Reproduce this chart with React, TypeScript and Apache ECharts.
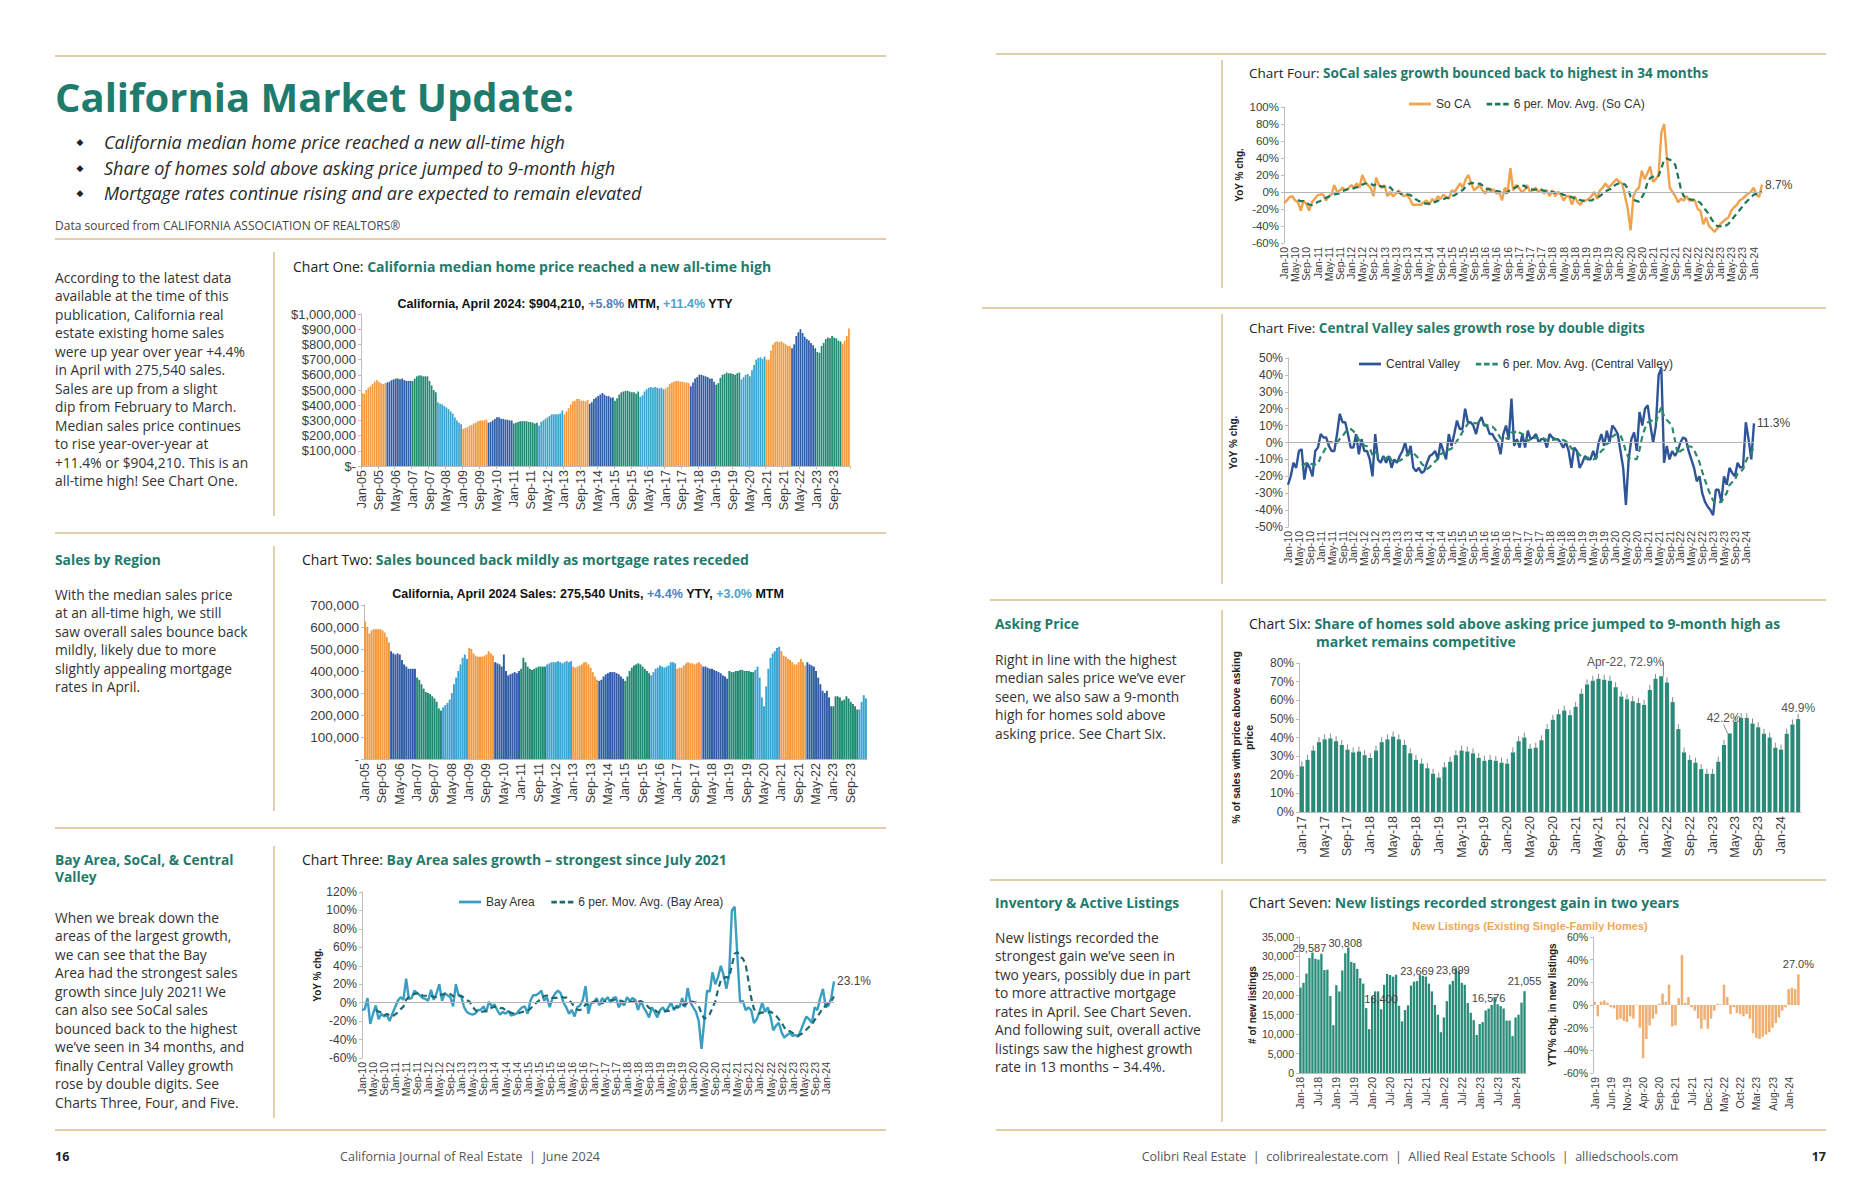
import React, { useEffect, useRef } from "react";
import * as echarts from "echarts";

// ---------- category helpers ----------
const MONTH_NAMES = ["Jan", "Feb", "Mar", "Apr", "May", "Jun", "Jul", "Aug", "Sep", "Oct", "Nov", "Dec"];
function monthLabels(startYear: number, count: number): string[] {
  const out: string[] = [];
  for (let i = 0; i < count; i++) {
    const y = startYear + Math.floor(i / 12);
    out.push(MONTH_NAMES[i % 12] + "-" + String(y % 100).padStart(2, "0"));
  }
  return out;
}

const priceMonths = monthLabels(2005, 232);
const regionMonths = monthLabels(2010, 172);
const askingMonths = monthLabels(2017, 88);
const listingMonths = monthLabels(2018, 76);
const listingYoYMonths = monthLabels(2019, 64);

// ---------- Chart One: median price ----------
const medianPrice = [
  480e3, 475e3, 500e3, 515e3, 525e3, 540e3, 555e3, 565e3, 555e3, 545e3, 540e3, 545e3,
  550e3, 555e3, 565e3, 570e3, 575e3, 575e3, 570e3, 575e3, 565e3, 560e3, 560e3, 560e3,
  560e3, 575e3, 590e3, 595e3, 595e3, 590e3, 590e3, 590e3, 560e3, 530e3, 500e3, 485e3,
  420e3, 410e3, 405e3, 395e3, 385e3, 375e3, 360e3, 345e3, 320e3, 300e3, 285e3, 275e3,
  245e3, 250e3, 255e3, 265e3, 270e3, 280e3, 285e3, 295e3, 300e3, 300e3, 300e3, 305e3,
  285e3, 290e3, 300e3, 310e3, 320e3, 320e3, 310e3, 310e3, 305e3, 305e3, 300e3, 300e3,
  280e3, 285e3, 290e3, 295e3, 295e3, 295e3, 295e3, 290e3, 290e3, 285e3, 280e3, 285e3,
  265e3, 290e3, 300e3, 310e3, 320e3, 330e3, 340e3, 340e3, 340e3, 340e3, 345e3, 365e3,
  340e3, 360e3, 380e3, 405e3, 425e3, 430e3, 440e3, 440e3, 430e3, 430e3, 425e3, 435e3,
  410e3, 420e3, 440e3, 450e3, 460e3, 470e3, 480e3, 470e3, 460e3, 460e3, 450e3, 450e3,
  430e3, 445e3, 470e3, 485e3, 490e3, 495e3, 495e3, 490e3, 485e3, 485e3, 475e3, 490e3,
  455e3, 465e3, 490e3, 505e3, 515e3, 520e3, 515e3, 520e3, 515e3, 510e3, 515e3, 505e3,
  510e3, 520e3, 540e3, 550e3, 555e3, 560e3, 560e3, 555e3, 555e3, 550e3, 550e3, 545e3,
  525e3, 550e3, 575e3, 585e3, 600e3, 600e3, 595e3, 590e3, 585e3, 575e3, 575e3, 555e3,
  535e3, 545e3, 580e3, 600e3, 605e3, 615e3, 610e3, 610e3, 605e3, 600e3, 610e3, 615e3,
  570e3, 585e3, 600e3, 605e3, 590e3, 630e3, 665e3, 700e3, 710e3, 715e3, 705e3, 720e3,
  700e3, 700e3, 760e3, 800e3, 815e3, 820e3, 815e3, 820e3, 810e3, 800e3, 790e3, 790e3,
  775e3, 800e3, 855e3, 880e3, 900e3, 875e3, 850e3, 835e3, 825e3, 810e3, 795e3, 775e3,
  750e3, 745e3, 790e3, 810e3, 835e3, 845e3, 840e3, 855e3, 845e3, 840e3, 825e3, 820e3,
  805e3, 825e3, 855e3, 904210,
];

// ---------- Chart Two: sales units ----------
const salesUnits = [
  625e3, 600e3, 570e3, 585e3, 590e3, 590e3, 590e3, 590e3, 585e3, 575e3, 555e3, 530e3,
  490e3, 480e3, 475e3, 480e3, 475e3, 450e3, 430e3, 420e3, 410e3, 410e3, 410e3, 410e3,
  370e3, 360e3, 340e3, 320e3, 305e3, 300e3, 295e3, 285e3, 275e3, 260e3, 230e3, 220e3,
  235e3, 245e3, 255e3, 270e3, 300e3, 340e3, 370e3, 400e3, 430e3, 460e3, 475e3, 455e3,
  505e3, 500e3, 480e3, 470e3, 465e3, 465e3, 465e3, 470e3, 475e3, 490e3, 480e3, 470e3,
  440e3, 435e3, 430e3, 420e3, 475e3, 400e3, 380e3, 385e3, 390e3, 395e3, 390e3, 400e3,
  410e3, 460e3, 440e3, 420e3, 410e3, 405e3, 410e3, 415e3, 420e3, 420e3, 420e3, 420e3,
  430e3, 435e3, 440e3, 440e3, 440e3, 445e3, 440e3, 435e3, 440e3, 445e3, 440e3, 445e3,
  420e3, 415e3, 420e3, 425e3, 430e3, 440e3, 440e3, 430e3, 415e3, 395e3, 375e3, 360e3,
  355e3, 360e3, 375e3, 385e3, 390e3, 395e3, 395e3, 395e3, 390e3, 385e3, 375e3, 365e3,
  355e3, 375e3, 400e3, 415e3, 425e3, 430e3, 435e3, 430e3, 420e3, 410e3, 400e3, 390e3,
  380e3, 395e3, 410e3, 415e3, 425e3, 420e3, 415e3, 420e3, 425e3, 440e3, 440e3, 435e3,
  410e3, 415e3, 415e3, 425e3, 435e3, 440e3, 435e3, 435e3, 430e3, 435e3, 440e3, 430e3,
  420e3, 420e3, 415e3, 410e3, 410e3, 405e3, 400e3, 395e3, 390e3, 380e3, 375e3, 365e3,
  400e3, 395e3, 395e3, 400e3, 400e3, 405e3, 405e3, 400e3, 400e3, 400e3, 395e3, 395e3,
  405e3, 420e3, 370e3, 280e3, 240e3, 330e3, 410e3, 460e3, 480e3, 490e3, 505e3, 510e3,
  490e3, 470e3, 465e3, 455e3, 450e3, 440e3, 430e3, 430e3, 440e3, 455e3, 440e3, 425e3,
  440e3, 430e3, 425e3, 420e3, 400e3, 370e3, 340e3, 310e3, 300e3, 310e3, 280e3, 240e3,
  240e3, 285e3, 285e3, 280e3, 265e3, 270e3, 285e3, 275e3, 260e3, 250e3, 240e3, 225e3,
  225e3, 260e3, 290e3, 275540,
];

const C_ORANGE = "#f29a3d";
const C_DBLUE = "#2e5ca7";
const C_GREEN = "#1f8a71";
const C_LBLUE = "#37a5ce";
const priceYearColors = [
  C_ORANGE, C_DBLUE, C_GREEN, C_LBLUE, C_ORANGE, C_DBLUE, C_GREEN, C_LBLUE, C_ORANGE, C_DBLUE,
  C_GREEN, C_LBLUE, C_ORANGE, C_DBLUE, C_GREEN, C_LBLUE, C_ORANGE, C_DBLUE, C_GREEN, C_ORANGE,
];
const salesYearColors = [
  C_ORANGE, C_DBLUE, C_GREEN, C_LBLUE, C_ORANGE, C_DBLUE, C_GREEN, C_LBLUE, C_ORANGE, C_DBLUE,
  C_GREEN, C_LBLUE, C_ORANGE, C_DBLUE, C_GREEN, C_LBLUE, C_ORANGE, C_DBLUE, C_GREEN, C_LBLUE,
];

// ---------- Chart Three: Bay Area YoY % ----------
const bayArea = [
  -8, -7, 5, -23, -12, -3, -18, -12, -15, -13, -20, -12,
  -5, 2, 6, 3, 26, 4, 5, 13, 10, 8, 5, 4,
  2, 14, 3, 10, 20, 2, 10, 8, 6, -4, 20, 8,
  6, -5, -10, -12, -13, -12, -8, -8, -4, -10, 1, -4,
  -2, -8, -13, -10, -12, -9, -14, -13, -12, -8, -5, -4,
  -12, 2, 8, 8, 10, 13, 2, 6, -5, 5, 10, 13,
  10, 0, -5, -12, -8, -15, -5, -3, 3, 18, -12, 0,
  0, 5, -3, 5, 2, 6, 0, 5, 6, -5, 0, -3,
  6, 2, 5, 3, -8, 2, -5, -10, -16, -5, -10, -16,
  -8, -5, -10, -5, 0, -8, -3, -5, 5, -5, 16, 0,
  -5, -10, -20, -50, -20, 13, 12, 33, 20, 28, 40, 30,
  15, 30, 100, 104, 50, 0, 2, -8, -5, -8, -22, -18,
  -10, 0, -10, -5, -15, -30, -25, -22, -32, -38, -35, -33,
  -36, -35, -37, -30, -22, -15, -18, -22, -5, -8, 5, 15,
  -5, -3, 5, 23.1,
];
const bayAreaMA = [
  null, null, null, null, null, -8, -9.7, -10.5, -13.8, -12.2, -13.5, -15,
  -12.8, -10.5, -7, -4.3, 3.3, 6, 7.7, 9.5, 10.2, 11, 7.5, 7.5,
  7, 7.2, 6, 6.3, 8.8, 8.5, 9.8, 8.8, 9.3, 7, 7, 8,
  7.3, 5.2, 2.5, 1.2, -4.3, -7.7, -10, -10.5, -9.5, -9.2, -6.8, -5.5,
  -4.5, -4.5, -6, -6, -8.2, -9, -11, -11.8, -11.7, -11.3, -10.2, -9.3,
  -9, -6.5, -3.2, -0.5, 2, 4.8, 7.2, 7.8, 5.7, 5.2, 5.2, 5.2,
  6.5, 5.5, 5.5, 2.7, -0.3, -5, -7.5, -8, -6.7, -1.7, -2.3, 0.2,
  1, 2.3, 1.3, -0.8, 1.5, 2.5, 2.5, 2.5, 4, 2.3, 2, 0.5,
  1.5, 1, 0.8, 2.2, 0.8, 1.7, -0.2, -2.2, -5.7, -7, -7.3, -10.3,
  -10.8, -10, -9, -9, -7.3, -6, -5.2, -5.2, -2.7, -2.7, 0, 1.3,
  1, 0.2, -4, -11.5, -17.5, -15.3, -12.5, -5.3, 1.3, 14.3, 24.3, 27.2,
  27.7, 27.2, 40.5, 53.2, 54.8, 49.8, 47.7, 41.3, 23.8, 5.2, -6.8, -9.8,
  -11.8, -10.5, -11.3, -10.8, -9.7, -11.7, -14.2, -17.8, -21.5, -27, -30.3, -30.8,
  -32.7, -34.8, -35.7, -34.3, -32.2, -29.2, -26.2, -24, -18.7, -15, -10.5, -5.5,
  -3.3, -0.2, 1.5, 6.7,
];

// ---------- Chart Four: SoCal YoY % ----------
const soCal = [
  -13, -10, -6, -5, -10, -12, -22, -10, -14, -22, -12, -8,
  -4, -3, -3, -10, -5, -3, 8, 0, 2, 5, 2, 4,
  8, 5, 10, 5, 20, 12, 8, 5, -5, 17, 8, 5,
  8, -5, 0, -5, -2, 2, -3, -5, -3, -8, -15, -15,
  -15, -15, -12, -10, -15, -8, -12, -5, -8, -3, -6, -8,
  2, 0, 5, 10, 5, 15, 20, 10, 2, 5, 8, 2,
  -2, 5, 0, 3, -2, 0, -10, 5, 0, 28, 2, 8,
  5, 0, 2, 8, 0, 2, 5, 0, 3, -2, 2, -5,
  2, -5, 0, -3, -10, -5, -5, -15, -5, -12, -15, -10,
  -10, -8, -5, 0, -8, 2, 5, 10, 5, 8, 12, 15,
  12, 10, -5, -20, -45, -5, 2, 5, 25, 15, 22, 30,
  12, 15, 20, 70, 80, 40, 5, 0, -5, -12, -8, -10,
  -5, -10, -10, -10, -20, -22, -38, -30, -40, -43, -47, -43,
  -38, -35, -32, -30, -22, -18, -15, -10, -8, -5, -2, 0,
  5, -3, -6, 8.7,
];
const soCalMA = [
  null, null, null, null, null, -9.3, -10.8, -10.8, -12.2, -15, -15.3, -14.7,
  -11.7, -10.5, -8.7, -6.7, -5.5, -4.7, -2.7, -2.2, -1.3, 1.2, 2.3, 3.5,
  3.5, 4.3, 5.7, 5.7, 8.7, 10, 10, 10, 7.5, 9.5, 7.5, 6.3,
  6.3, 4.7, 5.5, 1.8, 0.2, -0.3, -2.2, -2.2, -2.7, -3.2, -5.3, -8.2,
  -10.2, -11.8, -13.3, -13.7, -13.7, -12.5, -12, -10.3, -9.7, -8.5, -7, -7,
  -4.7, -3.8, -1.7, 0.5, 2.3, 6.2, 9.2, 10.8, 10.3, 9.5, 10, 7.8,
  4.2, 3.3, 3, 2.7, 1, 0.7, -0.7, -0.7, -0.7, 3.5, 4.2, 5.5,
  8, 7.2, 7.5, 4.2, 3.8, 2.8, 2.8, 2.8, 3, 1.3, 1.7, 0.5,
  0, -0.8, -1.3, -1.5, -3.5, -3.5, -4.7, -6.3, -7.2, -8.7, -9.5, -10.3,
  -11.2, -10, -10, -8, -6.8, -4.8, -2.3, 0.7, 2.3, 3.7, 7, 9.2,
  10.3, 10.3, 8.7, 4, -5.5, -8.8, -10.5, -11.3, -6.3, -0.5, 10.7, 16.5,
  18, 19.8, 19, 28, 37.8, 39.5, 38, 35.8, 31.7, 18, 3.3, -5,
  -6.7, -8.3, -9.2, -8.8, -10.8, -12.8, -18.3, -21.7, -26.7, -32.2, -36.7, -40.2,
  -40.2, -41, -39.7, -37.5, -33.3, -29.2, -25.3, -21.2, -17.2, -13, -9.7, -6.7,
  -3.3, -2.2, -1.8, 0.4,
];

// ---------- Chart Five: Central Valley YoY % ----------
const centralValley = [
  -25, -20, -12, -15, -5, -4, -22, -12, -15, -20, -5, -3,
  5, 3, 3, -2, -5, -5, 5, 17, 12, 12, 5, -3,
  -3, 5, -7, 2, -5, -5, -10, -20, 5, -10, -12, -8,
  -12, -8, -15, -10, -12, -8, -5, 0, -8, -2, -15, -17,
  -15, -18, -17, -12, -8, -7, -5, -10, 0, -5, -10, 5,
  -2, 5, 13, 8, 8, 20, 12, 12, 10, 5, 12, 15,
  10, 10, 5, 5, 2, 0, -7, 5, 10, 2, 26, -2,
  2, -3, 5, -3, 7, 2, 3, 5, 0, 2, 2, -3,
  5, 3, 2, 2, 0, -3, 0, -5, -15, -3, -5, -15,
  -12, -8, -10, -10, -5, -10, 0, 5, -2, 7, 0, 10,
  8, 5, -5, -15, -37, -10, 2, 6, -5, 18, 10, 20,
  22, 10, 0, 10, 40, 44, -12, -2, -10, -5, -8, -5,
  0, 3, 2, -5, -10, -15, -23, -20, -30, -35, -38, -40,
  -43, -28, -28, -35, -20, -25, -15, -18, -20, -12, -15, -14,
  12, 2, -10, 11.3,
];
const centralValleyMA = [
  null, null, null, null, null, -13.5, -13, -11.7, -12.2, -13, -13, -12.8,
  -8.3, -5.8, -2.8, 0.2, 0.2, -0.2, -0.2, 2.2, 3.7, 6, 7.7, 8,
  6.7, 4.7, 1.5, -0.2, -1.8, -2.2, -3.3, -7.5, -5.5, -7.5, -8.7, -9.2,
  -9.5, -7.5, -10.8, -10.8, -10.8, -10.8, -9.7, -8.3, -7.2, -5.8, -6.3, -7.8,
  -9.5, -12.5, -14, -15.7, -14.5, -12.8, -11.2, -9.8, -7, -5.8, -6.2, -4.2,
  -3.7, -1.2, 1, 3.2, 6.2, 8.7, 11, 12.2, 11.7, 11.2, 11.8, 11,
  10.7, 10.3, 9.5, 9.5, 7.8, 5.3, 2.5, 1.7, 2.5, 2, 6, 5.7,
  7.2, 5.8, 5, 4.2, 1, 1.7, 1.8, 3.2, 2.3, 3.2, 2.3, 1.5,
  1.8, 1.5, 1.8, 1.8, 1.5, 1.5, 0.7, -0.7, -3.5, -4.3, -5.2, -7.2,
  -9.2, -9.7, -8.8, -10, -10, -9.2, -7.2, -5, -3.7, -0.8, 0, 3.3,
  4.7, 4.7, 4.2, 0.5, -5.7, -9, -10, -9.8, -9.8, -4.3, 3.5, 8.5,
  11.8, 12.5, 13.3, 12, 17, 21, 15.3, 13.3, 11.7, 9.2, 1.2, -7,
  -5, -4.2, -2.2, -2.2, -2.5, -4.2, -8, -11.8, -17.2, -22.2, -26.8, -31,
  -34.3, -35.7, -35.3, -35.3, -32.3, -29.8, -25.2, -23.5, -22.2, -18.3, -17.5, -15.7,
  -11.2, -7.8, -6.2, -2.3,
];

// ---------- Chart Six: share sold above asking ----------
const aboveAsking = [
  24.5, 28, 33, 37.5, 39, 39.5, 38, 36, 33.5, 32, 32.5, 30.5,
  29, 33, 37.5, 39, 40.5, 39, 36, 31.5, 28, 26, 23.5, 20.5,
  18.5, 24, 27, 30.5, 33, 32.5, 31.5, 29, 27.5, 28, 27.5, 26.5,
  26, 32, 38, 40, 34, 34.5, 38.5, 44.5, 49.5, 52.5, 54.5, 52,
  56.5, 63.5, 68.5, 70.5, 71.5, 71, 70.5, 67, 62, 60.5, 59.5, 58.5,
  57.5, 65.5, 71.5, 72.9, 69.5, 59, 44.5, 32, 28, 26.5, 23, 20.5,
  20.5, 27, 36, 42.2, 48.5, 50.5, 50.5, 47.5, 45.5, 42, 40, 34.5,
  33.5, 42, 47, 49.9,
];
const aboveAskingLabelled = [63, 75, 87];

// ---------- Chart Seven: new listings ----------
const newListings = [
  22000, 23200, 25600, 29587, 31000, 29400, 29200, 30700, 26500, 26600, 19800, 12300,
  22600, 21000, 26400, 30808, 32300, 28600, 28300, 26800, 24400, 23000, 16700, 11300,
  19700, 21000, 21000, 16400, 22700, 25500, 25200, 24800, 25300, 17300, 13300, 16200,
  17400, 22500, 23500, 23669, 25200, 25000, 24800, 23000, 21000, 17500, 15000, 10500,
  14300, 18500, 22800, 23699, 27000, 26300, 23200, 22700, 18000, 15500, 13600, 9800,
  12600, 13100, 16100, 16576, 17500, 19600, 17700, 17200, 16600, 13500, 13500, 9500,
  14300, 15000, 18100, 21055,
];
const newListingsLabelled = [3, 15, 27, 39, 51, 63, 75];
const newListingsYoY = [
  3, -10, 3, 4, 2, -2, -3, -13, -12, -14, -15, -10,
  -12, 0.5, -20, -47, -30, -18, -12, -8, 1, 10, 3, 18,
  -19, -18, 6, 44, 2, 7, -2, -5, -12, -21, -13, -21,
  -12, -5, 1, 0.5, 18, 7, -8, -2, -7, -8, -10, -8,
  -12, -25, -29, -30, -28, -26, -24, -20, -16, -11, -5, -2,
  14, 15, 14, 27,
];
const newListingsYoYLabelled = [63];

// ---------- page texts ----------
const bullets = [
  "California median home price reached a new all-time high",
  "Share of homes sold above asking price jumped to 9-month high",
  "Mortgage rates continue rising and are expected to remain elevated",
];
const paraOne = [
  "According to the latest data",
  "available at the time of this",
  "publication, California real",
  "estate existing home sales",
  "were up year over year +4.4%",
  "in April with 275,540 sales.",
  "Sales are up from a slight",
  "dip from February to March.",
  "Median sales price continues",
  "to rise year-over-year at",
  "+11.4% or $904,210. This is an",
  "all-time high! See Chart One.",
];
const paraTwo = [
  "With the median sales price",
  "at an all-time high, we still",
  "saw overall sales bounce back",
  "mildly, likely due to more",
  "slightly appealing mortgage",
  "rates in April.",
];
const paraThree = [
  "When we break down the",
  "areas of the largest growth,",
  "we can see that the Bay",
  "Area had the strongest sales",
  "growth since July 2021! We",
  "can also see SoCal sales",
  "bounced back to the highest",
  "we\u2019ve seen in 34 months, and",
  "finally Central Valley growth",
  "rose by double digits. See",
  "Charts Three, Four, and Five.",
];
const paraFour = [
  "Right in line with the highest",
  "median sales price we\u2019ve ever",
  "seen, we also saw a 9-month",
  "high for homes sold above",
  "asking price. See Chart Six.",
];
const paraFive = [
  "New listings recorded the",
  "strongest gain we\u2019ve seen in",
  "two years, possibly due in part",
  "to more attractive mortgage",
  "rates in April. See Chart Seven.",
  "And following suit, overall active",
  "listings saw the highest growth",
  "rate in 13 months \u2013 34.4%.",
];

// ---------- styling ----------
const CF = "Liberation Sans";
const BF = "Open Sans";
const TEAL = "#1f7b6d";
const GOLD = "#d8bd8d";
const AX_COLOR = "#3d3d3d";
const AXIS_LINE = { show: true, lineStyle: { color: "#bdbdbd", width: 1 } };
const BODY_SIZE = 13.8;
const TITLE_SIZE = 14;
const ICON_SOLID = "path://M0,0H24V3H0Z";
const ICON_DASH = "path://M0,0H6V3H0Z M9,0H15V3H9Z M18,0H24V3H18Z";

function fmtThousands(v: number): string {
  return Math.round(v).toString().replace(/\B(?=(\d{3})+(?!\d))/g, ",");
}

function txt(x: number, y: number, text: string, style: any = {}) {
  return {
    type: "text",
    x,
    y,
    silent: true,
    style: {
      text,
      fill: "#333",
      fontSize: BODY_SIZE,
      fontFamily: BF,
      textVerticalAlign: "middle",
      ...style,
    },
  };
}
function hline(x1: number, x2: number, y: number) {
  return { type: "line", silent: true, shape: { x1, y1: y, x2, y2: y }, style: { stroke: GOLD, lineWidth: 1.6 } };
}
function vline(x: number, y1: number, y2: number) {
  return { type: "line", silent: true, shape: { x1: x, y1, x2: x, y2 }, style: { stroke: GOLD, lineWidth: 1.4 } };
}
function chartTitle(x: number, y: number, lead: string, rest: string, size: number = TITLE_SIZE) {
  return {
    type: "text",
    x,
    y,
    silent: true,
    style: {
      text: "{a|" + lead + "} {b|" + rest + "}",
      fontSize: size,
      fontFamily: BF,
      fill: "#222",
      textVerticalAlign: "middle",
      rich: {
        a: { fontSize: size, fontFamily: BF, fill: "#222" },
        b: { fontSize: size, fontFamily: BF, fontWeight: "bold", fill: TEAL },
      },
    },
  };
}
function paragraph(x: number, top: number, lines: string[]) {
  return {
    type: "text",
    x,
    y: top,
    silent: true,
    style: {
      text: lines.join("\n"),
      fill: "#333",
      fontSize: BODY_SIZE,
      fontFamily: BF,
      lineHeight: 18.5,
      textVerticalAlign: "top",
    },
  };
}
function subTitle(x: number, y: number, a: string, b: string, c: string, d: string, e: string) {
  const base = { fontSize: 12.5, fontFamily: CF, fontWeight: "bold", fill: "#111" };
  return {
    type: "text",
    x,
    y,
    silent: true,
    style: {
      text: "{k|" + a + "}{b|" + b + "}{k|" + c + "}{c|" + d + "}{k|" + e + "}",
      ...base,
      textAlign: "center",
      textVerticalAlign: "middle",
      rich: {
        k: { ...base },
        b: { ...base, fill: "#4f7fc0" },
        c: { ...base, fill: "#4aa3cc" },
      },
    },
  };
}

function catAxis(gridIndex: number, data: string[], interval: number, fontSize: number, extra: any = {}) {
  return {
    gridIndex,
    type: "category",
    data,
    boundaryGap: true,
    axisLine: { ...AXIS_LINE, onZero: false },
    axisTick: { show: false },
    axisLabel: { color: AX_COLOR, fontFamily: CF, fontSize, interval, rotate: 90, margin: 4 },
    ...extra,
  };
}
function valAxis(gridIndex: number, min: number, max: number, interval: number, formatter: any, fontSize: number, extra: any = {}) {
  return {
    gridIndex,
    type: "value",
    min,
    max,
    interval,
    splitLine: { show: false },
    axisLine: AXIS_LINE,
    axisTick: { show: true, length: 3, lineStyle: { color: "#bdbdbd" } },
    axisLabel: { color: AX_COLOR, fontFamily: CF, fontSize, formatter, margin: 5 },
    ...extra,
  };
}
const pct = (v: number) => v + "%";
const yoyName = {
  name: "YoY % chg.",
  nameLocation: "middle",
  nameRotate: 90,
  nameTextStyle: { fontFamily: CF, fontWeight: "bold", fontSize: 10, color: "#222" },
};
const zeroLine = {
  silent: true,
  symbol: "none",
  label: { show: false },
  lineStyle: { color: "#b5b5b5", width: 1, type: "solid" },
  data: [{ yAxis: 0 }],
};
function lineSeries(name: string, xi: number, data: any[], color: string, dashed: boolean, withEnd: boolean) {
  return {
    name,
    type: "line",
    xAxisIndex: xi,
    yAxisIndex: xi,
    data,
    symbol: "none",
    silent: true,
    lineStyle: { color, width: dashed ? 2.2 : 2.4, type: dashed ? [6, 4] : "solid" },
    itemStyle: { color },
    endLabel: withEnd
      ? { show: true, formatter: (p: any) => p.value + "%", color: "#444", fontFamily: CF, fontSize: 12, distance: 3 }
      : { show: false },
    markLine: withEnd ? zeroLine : undefined,
    z: dashed ? 3 : 2,
  };
}
function legendFor(names: string[], left: number, top: number) {
  return {
    data: [
      { name: names[0], icon: ICON_SOLID },
      { name: names[1], icon: ICON_DASH },
    ],
    left,
    top,
    itemWidth: 22,
    itemHeight: 3,
    itemGap: 16,
    selectedMode: false,
    textStyle: { fontFamily: CF, fontSize: 12, color: "#333" },
  };
}

function buildOption() {
  const graphic: any[] = [
    // gold rules
    hline(55, 886, 56), hline(55, 886, 239), hline(55, 886, 533), hline(55, 886, 828), hline(55, 886, 1130),
    hline(996, 1826, 54), hline(982, 1826, 308), hline(990, 1826, 600), hline(990, 1826, 880), hline(996, 1826, 1130),
    vline(274, 252, 516), vline(274, 546, 811), vline(274, 846, 1118),
    vline(1222, 60, 288), vline(1222, 314, 584), vline(1222, 610, 864), vline(1222, 890, 1122),
    // header
    txt(55, 96, "California Market Update:", { fontSize: 40, fontWeight: "bold", fill: TEAL }),
    ...bullets.map((b, i) => txt(80, 142 + i * 25.5, "\u25C6", { fontSize: 9, fontFamily: "DejaVu Sans", fill: "#222", textAlign: "center" })),
    ...bullets.map((b, i) => txt(104, 142 + i * 25.5, b, { fontSize: 18, fontStyle: "italic", fill: "#2a2a2a" })),
    txt(55, 225, "Data sourced from CALIFORNIA ASSOCIATION OF REALTORS\u00AE", { fontSize: 12, fill: "#444" }),
    // left page body
    paragraph(55, 268, paraOne),
    chartTitle(293, 266, "Chart One:", "California median home price reached a new all-time high"),
    subTitle(565, 304, "California, April 2024: $904,210, ", "+5.8%", " MTM, ", "+11.4%", " YTY"),
    txt(55, 559, "Sales by Region", { fontWeight: "bold", fill: TEAL }),
    paragraph(55, 585, paraTwo),
    chartTitle(302, 559, "Chart Two:", "Sales bounced back mildly as mortgage rates receded"),
    subTitle(588, 594, "California, April 2024 Sales: 275,540 Units, ", "+4.4%", " YTY, ", "+3.0%", " MTM"),
    {
      type: "text", x: 55, y: 851, silent: true,
      style: { text: "Bay Area, SoCal, & Central\nValley", fontSize: BODY_SIZE, fontFamily: BF, fontWeight: "bold", fill: TEAL, lineHeight: 17, textVerticalAlign: "top" },
    },
    paragraph(55, 908, paraThree),
    chartTitle(302, 859, "Chart Three:", "Bay Area sales growth \u2013 strongest since July 2021"),
    // right page body
    chartTitle(1249, 73, "Chart Four:", "SoCal sales growth bounced back to highest in 34 months", 13.5),
    chartTitle(1249, 328, "Chart Five:", "Central Valley sales growth rose by double digits", 13.5),
    txt(995, 623, "Asking Price", { fontWeight: "bold", fill: TEAL }),
    paragraph(995, 650, paraFour),
    chartTitle(1249, 623, "Chart Six:", "Share of homes sold above asking price jumped to 9-month high as"),
    txt(1316, 641, "market remains competitive", { fontSize: TITLE_SIZE, fontWeight: "bold", fill: TEAL }),
    txt(995, 902, "Inventory & Active Listings", { fontWeight: "bold", fill: TEAL }),
    paragraph(995, 928, paraFive),
    chartTitle(1249, 902, "Chart Seven:", "New listings recorded strongest gain in two years"),
    txt(1530, 926, "New Listings (Existing Single-Family Homes)", { fontSize: 11, fontFamily: CF, fontWeight: "bold", fill: "#efa75c", textAlign: "center" }),
    // footers
    txt(55, 1156, "16", { fontSize: 12.5, fontWeight: "bold", fill: "#222" }),
    txt(470, 1156, "California Journal of Real Estate  |  June 2024", { fontSize: 12.5, fill: "#555", textAlign: "center" }),
    txt(1410, 1156, "Colibri Real Estate  |  colibrirealestate.com  |  Allied Real Estate Schools  |  alliedschools.com", { fontSize: 12.5, fill: "#555", textAlign: "center" }),
    txt(1826, 1156, "17", { fontSize: 12.5, fontWeight: "bold", fill: "#222", textAlign: "right" }),
  ];

  const grid = [
    { left: 361, top: 314, width: 489, height: 152 },
    { left: 364, top: 605, width: 503, height: 154 },
    { left: 362, top: 892, width: 472, height: 166 },
    { left: 1284, top: 107, width: 478, height: 136 },
    { left: 1288, top: 358, width: 466, height: 169 },
    { left: 1299, top: 663, width: 502, height: 149 },
    { left: 1299, top: 937, width: 227, height: 136 },
    { left: 1593, top: 937, width: 207, height: 136 },
  ];

  const lineX = (gi: number) => ({
    gridIndex: gi,
    type: "category",
    data: regionMonths,
    boundaryGap: false,
    axisLine: { show: false, onZero: false },
    axisTick: { show: false },
    axisLabel: { color: AX_COLOR, fontFamily: CF, fontSize: 10.5, interval: 3, rotate: 90, margin: 4 },
  });

  const xAxis = [
    catAxis(0, priceMonths, 7, 12.5, { axisTick: { show: true, interval: 7, length: 3, lineStyle: { color: "#bdbdbd" } } }),
    catAxis(1, priceMonths, 7, 12.5),
    lineX(2),
    lineX(3),
    lineX(4),
    catAxis(5, askingMonths, 3, 12.5),
    catAxis(6, listingMonths, 5, 10.5),
    catAxis(7, listingYoYMonths, 4, 10.5, { axisLine: { show: false, onZero: false } }),
  ];

  const yAxis = [
    valAxis(0, 0, 1000000, 100000, (v: number) => (v === 0 ? "$-" : "$" + fmtThousands(v)), 13),
    valAxis(1, 0, 700000, 100000, (v: number) => (v === 0 ? "-" : fmtThousands(v)), 13.5),
    valAxis(2, -60, 120, 20, pct, 12, { ...yoyName, nameGap: 40 }),
    valAxis(3, -60, 100, 20, pct, 11.5, { ...yoyName, nameGap: 40 }),
    valAxis(4, -50, 50, 10, pct, 12, { ...yoyName, nameGap: 50 }),
    valAxis(5, 0, 80, 10, pct, 12, {
      name: "% of sales with price above asking\nprice",
      nameLocation: "middle",
      nameRotate: 90,
      nameGap: 44,
      nameTextStyle: { fontFamily: CF, fontWeight: "bold", fontSize: 10.5, color: "#222", lineHeight: 13 },
    }),
    valAxis(6, 0, 35000, 5000, (v: number) => fmtThousands(v), 10.5, {
      name: "# of new listings",
      nameLocation: "middle",
      nameRotate: 90,
      nameGap: 40,
      nameTextStyle: { fontFamily: CF, fontWeight: "bold", fontSize: 10, color: "#222" },
    }),
    valAxis(7, -60, 60, 20, pct, 10.5, {
      name: "YTY% chg. in new listings",
      nameLocation: "middle",
      nameRotate: 90,
      nameGap: 36,
      nameTextStyle: { fontFamily: CF, fontWeight: "bold", fontSize: 10, color: "#222" },
    }),
  ];

  const series: any[] = [
    {
      type: "bar",
      xAxisIndex: 0,
      yAxisIndex: 0,
      silent: true,
      barCategoryGap: "18%",
      data: medianPrice.map((v, i) => ({ value: v, itemStyle: { color: priceYearColors[Math.floor(i / 12)] } })),
    },
    {
      type: "bar",
      xAxisIndex: 1,
      yAxisIndex: 1,
      silent: true,
      barCategoryGap: "10%",
      data: salesUnits.map((v, i) => ({ value: v, itemStyle: { color: salesYearColors[Math.floor(i / 12)] } })),
    },
    lineSeries("Bay Area", 2, bayArea, "#3a9ec2", false, true),
    lineSeries("6 per. Mov. Avg. (Bay Area)", 2, bayAreaMA, "#1d6b70", true, false),
    lineSeries("So CA", 3, soCal, "#f0a24e", false, true),
    lineSeries("6 per. Mov. Avg. (So CA)", 3, soCalMA, "#1a7657", true, false),
    lineSeries("Central Valley", 4, centralValley, "#2f5597", false, true),
    lineSeries("6 per. Mov. Avg. (Central Valley)", 4, centralValleyMA, "#2a8a68", true, false),
    {
      type: "bar",
      xAxisIndex: 5,
      yAxisIndex: 5,
      silent: true,
      barCategoryGap: "28%",
      itemStyle: { color: "#2a8a78" },
      data: aboveAsking,
      label: {
        show: true,
        position: "top",
        fontFamily: CF,
        fontSize: 12,
        color: "#555",
        formatter: (p: any) =>
          aboveAskingLabelled.indexOf(p.dataIndex) < 0 ? "" : p.dataIndex === 63 ? p.name + ", " + p.value + "%" : p.value + "%",
      },
      labelLayout: (p: any) => (p.dataIndex === 63 ? { dx: -36, dy: -3 } : p.dataIndex === 75 ? { dx: -6, dy: -4 } : {}),
      labelLine: { show: true, lineStyle: { color: "#8a8a8a", width: 1 } },
    },
    {
      type: "bar",
      xAxisIndex: 6,
      yAxisIndex: 6,
      silent: true,
      barCategoryGap: "22%",
      itemStyle: { color: "#2a8c78" },
      data: newListings,
      label: {
        show: true,
        position: "top",
        fontFamily: CF,
        fontSize: 11,
        color: "#444",
        formatter: (p: any) => (newListingsLabelled.indexOf(p.dataIndex) < 0 ? "" : fmtThousands(p.value)),
      },
    },
    {
      type: "bar",
      xAxisIndex: 7,
      yAxisIndex: 7,
      silent: true,
      barCategoryGap: "22%",
      itemStyle: { color: "#efae72" },
      data: newListingsYoY,
      label: {
        show: true,
        position: "top",
        fontFamily: CF,
        fontSize: 11,
        color: "#444",
        formatter: (p: any) => (newListingsYoYLabelled.indexOf(p.dataIndex) < 0 ? "" : p.value.toFixed(1) + "%"),
      },
    },
  ];

  return {
    animation: false,
    backgroundColor: "#ffffff",
    textStyle: { fontFamily: CF },
    grid,
    xAxis,
    yAxis,
    legend: [
      legendFor(["Bay Area", "6 per. Mov. Avg. (Bay Area)"], 454, 891),
      legendFor(["So CA", "6 per. Mov. Avg. (So CA)"], 1404, 93),
      legendFor(["Central Valley", "6 per. Mov. Avg. (Central Valley)"], 1354, 353),
    ],
    series,
    graphic,
  };
}

export default function App() {
  const ref = useRef<HTMLDivElement>(null);
  useEffect(() => {
    if (!ref.current) return;
    const chart = echarts.init(ref.current, undefined, { renderer: "svg", width: 1876, height: 1200 });
    chart.setOption(buildOption() as any);
    return () => chart.dispose();
  }, []);
  return (
    <div
      ref={ref}
      style={{ position: "absolute", left: 0, top: 0, width: 1876, height: 1200, background: "#fff" }}
    />
  );
}
